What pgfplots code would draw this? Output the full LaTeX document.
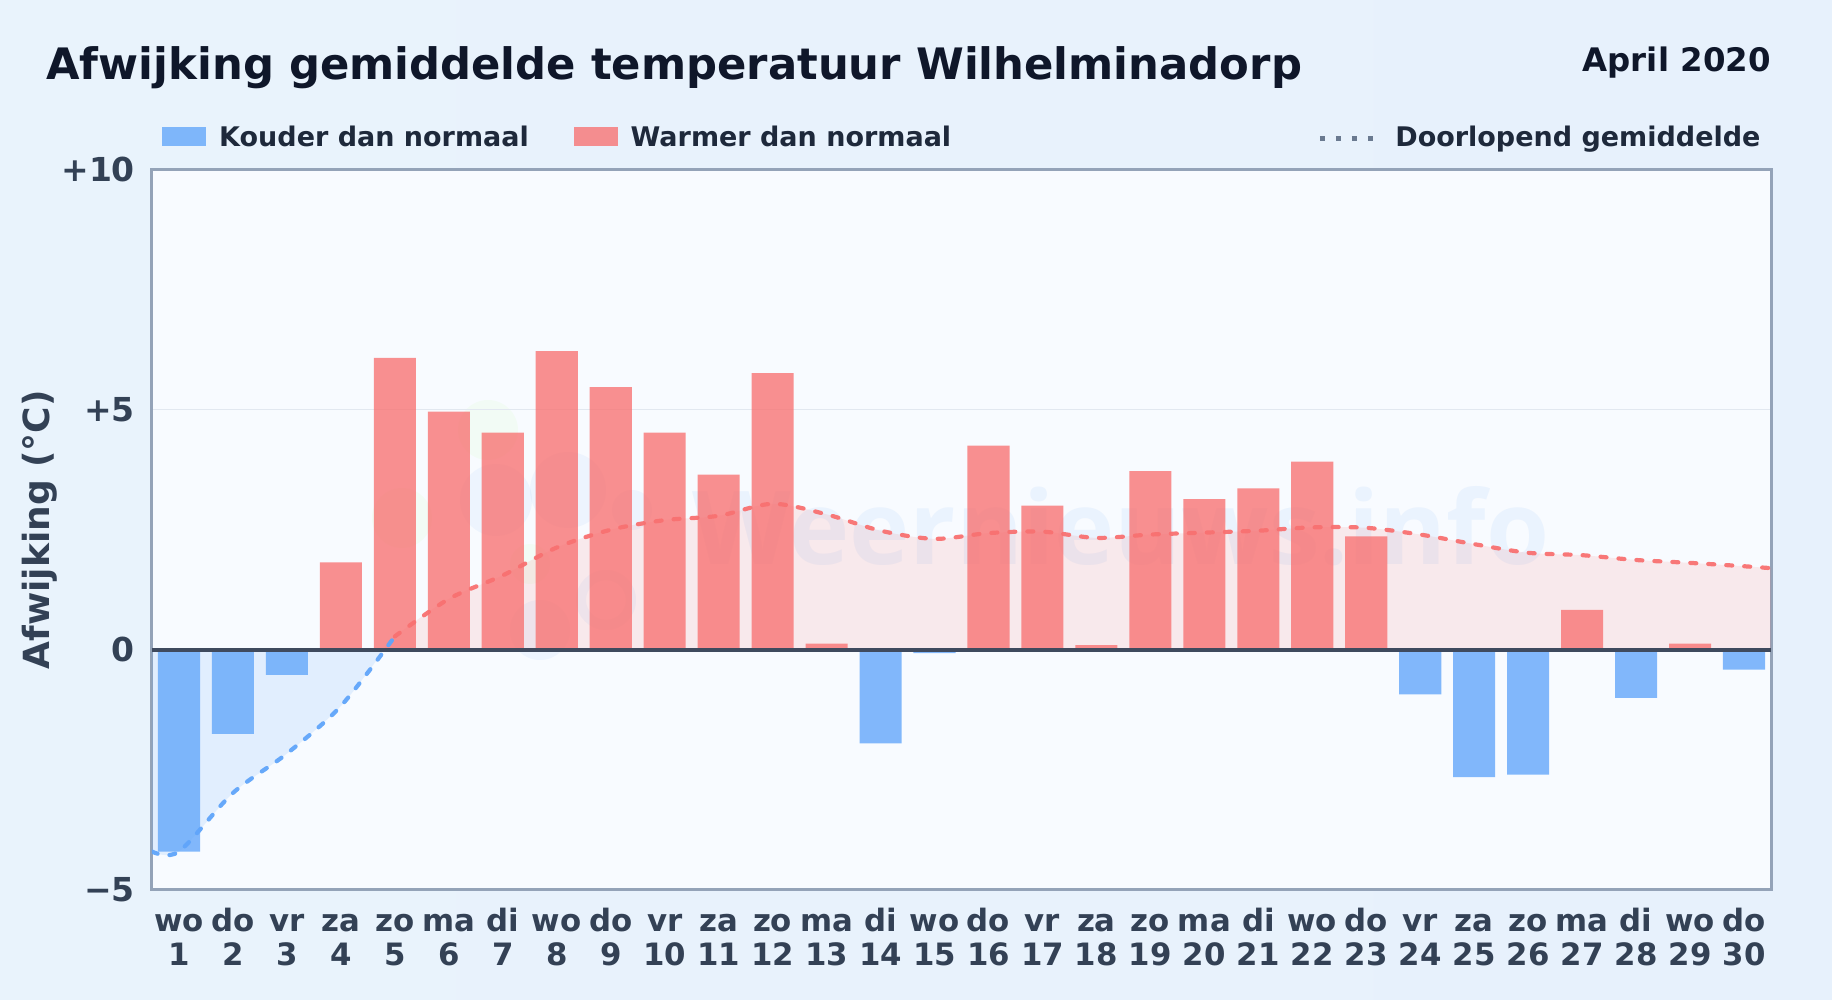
\documentclass[border=0pt]{standalone}
\usepackage{fontspec}
\setmainfont{DejaVu Sans}
\newfontfamily\wmfont{Open Sans}
\usepackage{pgfplots}
\usepackage{pgfplotstable}
\pgfplotsset{compat=1.18}

\definecolor{ink}{HTML}{0F172A}
\definecolor{legendink}{HTML}{1E293B}
\definecolor{tickink}{HTML}{334155}
\definecolor{spine}{HTML}{94A3B8}
\definecolor{gridc}{HTML}{E2E8F0}
\definecolor{cold}{HTML}{60A5FA}
\definecolor{warm}{HTML}{F87171}
\definecolor{zeroc}{HTML}{3F4A5E}
\definecolor{pageL}{HTML}{E9F3FC}
\definecolor{pageR}{HTML}{E7F1FC}
\definecolor{panel}{HTML}{F8FBFF}
\definecolor{meankey}{HTML}{64748B}

% two-line tick label with the same height on every day
\newcommand\tl[2]{\rule{0pt}{12pt}#1\\#2}

% daily deviation, split by sign
\pgfplotstableread{
x y
1 -4.20
2 -1.75
3 -0.52
14 -1.95
15 -0.07
24 -0.93
25 -2.65
26 -2.60
28 -1.00
30 -0.41
}\colddays
\pgfplotstableread{
x y
4 1.82
5 6.08
6 4.96
7 4.52
8 6.22
9 5.47
10 4.52
11 3.65
12 5.76
13 0.13
16 4.25
17 3.00
18 0.10
19 3.72
20 3.14
21 3.36
22 3.92
23 2.36
27 0.83
29 0.13
}\warmdays
% running mean
\pgfplotstableread{
x y
0.5 -4.20
1 -4.20
2 -2.98
3 -2.16
4 -1.17
5 0.28
}\meancold
\pgfplotstableread{
x y
5 0.28
6 1.06
7 1.55
8 2.13
9 2.50
10 2.70
11 2.79
12 3.04
13 2.82
14 2.48
15 2.31
16 2.43
17 2.46
18 2.33
19 2.40
20 2.44
21 2.48
22 2.55
23 2.54
24 2.40
25 2.20
26 2.02
27 1.97
28 1.87
29 1.81
30 1.74
30.5 1.70
}\meanwarm
\pgfplotstableread{
x y
0.5 -4.20
1 -4.20
2 -2.98
3 -2.16
4 -1.17
4.8 0
}\fillcold
\pgfplotstableread{
x y
4.8 0
5 0.28
6 1.06
7 1.55
8 2.13
9 2.50
10 2.70
11 2.79
12 3.04
13 2.82
14 2.48
15 2.31
16 2.43
17 2.46
18 2.33
19 2.40
20 2.44
21 2.48
22 2.55
23 2.54
24 2.40
25 2.20
26 2.02
27 1.97
28 1.87
29 1.81
30 1.74
30.5 1.70
}\fillwarm

\begin{document}
\begin{tikzpicture}
% page and panel; 1 px of the reference is 0.5 pt, origin at the lower left of the axis box
\path[use as bounding box] (-76pt,-55pt) rectangle (840pt,445pt);
\shade[left color=pageL, right color=pageR] (-76pt,-55pt) rectangle (840pt,445pt);
\fill[panel] (0,0) rectangle (809.5pt,360.25pt);

% faint logo and watermark behind the data
\begin{scope}[fill opacity=0.04]
\fill[green!55!yellow] (168pt,230pt) circle (15pt);
\fill[green!55!yellow] (125pt,186pt) circle (15pt);
\fill[green!55!yellow] (189pt,163pt) circle (10pt);
\end{scope}
\begin{scope}[fill opacity=0.07]
\fill[cold] (172pt,195pt) circle (18pt);
\fill[cold] (208pt,200pt) circle (19pt);
\fill[cold] (240pt,190pt) circle (10pt);
\fill[cold,even odd rule] (227pt,145pt) circle (15pt) circle (10pt);
\fill[cold] (194pt,130pt) circle (15pt);
\end{scope}
\node[anchor=base east,inner sep=0pt,text=cold,opacity=0.09] at (699pt,162.5pt)
  {\wmfont\bfseries\fontsize{51}{51}\selectfont Weernieuws.info};

\begin{axis}[
  at={(0,0)}, anchor=south west,
  scale only axis, width=809.5pt, height=360.25pt,
  xmin=0.5, xmax=30.5, ymin=-5, ymax=10,
  axis line style={color=spine,line width=1.5pt},
  major tick length=0pt,
  ytick={-5,0,5,10},
  yticklabels={−5,0,+5,+10},
  xtick={1,...,30},
  xticklabels={{\tl{wo}{1}},{\tl{do}{2}},{\tl{vr}{3}},{\tl{za}{4}},{\tl{zo}{5}},{\tl{ma}{6}},{\tl{di}{7}},{\tl{wo}{8}},{\tl{do}{9}},{\tl{vr}{10}},
    {\tl{za}{11}},{\tl{zo}{12}},{\tl{ma}{13}},{\tl{di}{14}},{\tl{wo}{15}},{\tl{do}{16}},{\tl{vr}{17}},{\tl{za}{18}},{\tl{zo}{19}},{\tl{ma}{20}},
    {\tl{di}{21}},{\tl{wo}{22}},{\tl{do}{23}},{\tl{vr}{24}},{\tl{za}{25}},{\tl{zo}{26}},{\tl{ma}{27}},{\tl{di}{28}},{\tl{wo}{29}},{\tl{do}{30}}},
  x tick label style={align=center,text=tickink,yshift=-5pt,
    font=\bfseries\fontsize{15.4}{17}\selectfont},
  y tick label style={text=tickink,xshift=-5pt,font=\bfseries\fontsize{16.5}{16.5}\selectfont},
  ymajorgrids,
  grid style={color=gridc,line width=0.8pt},
  ylabel={Afwijking (°C)},
  ylabel style={at={(axis description cs:-0.0695,0.5)},anchor=center,text=tickink,
    font=\bfseries\fontsize{18}{18}\selectfont},
  legend columns=3,
  legend cell align=left,
  legend style={at={(axis description cs:0,1)},anchor=south west,xshift=5pt,yshift=9.9pt,
    draw=none,fill=none,inner sep=0pt,
    font=\bfseries\fontsize{13.5}{13.5}\selectfont,text=legendink,
    nodes={inner sep=0pt},
    /tikz/column 2/.style={column sep=22.5pt},
    /tikz/column 4/.style={column sep=183pt}},
]
\addplot[fill=cold,fill opacity=0.15,draw=none,smooth,tension=0.5,forget plot] table {\fillcold} \closedcycle;
\addplot[fill=warm,fill opacity=0.13,draw=none,smooth,tension=0.5,forget plot] table {\fillwarm} \closedcycle;

\addplot[ybar,bar width=0.78,bar shift=0pt,fill=cold,fill opacity=0.78,draw=none,
  legend image code/.code={\fill[cold,fill opacity=0.78] (0pt,-4pt) rectangle (22pt,5.5pt);\path (28.4pt,0pt);}]
  table {\colddays};
\addlegendentry{Kouder dan normaal}
\addplot[ybar,bar width=0.78,bar shift=0pt,fill=warm,fill opacity=0.78,draw=none,
  legend image code/.code={\fill[warm,fill opacity=0.78] (0pt,-4pt) rectangle (22pt,5.5pt);\path (28.4pt,0pt);}]
  table {\warmdays};
\addlegendentry{Warmer dan normaal}

\addplot[color=cold,opacity=0.95,line width=2.1pt,line cap=round,smooth,tension=0.5,dash pattern=on 3pt off 6pt,forget plot] table {\meancold};
\addplot[color=warm,opacity=0.95,line width=2.1pt,line cap=round,smooth,tension=0.5,dash pattern=on 3pt off 6pt,
  legend image code/.code={
    \draw[color=meankey,line width=2.6pt,line cap=butt,dash pattern=on 2.6pt off 5.4pt] (0pt,-0.5pt) -- (26.6pt,-0.5pt);\path (36.7pt,0pt);}]
  table {\meanwarm};
\addlegendentry{Doorlopend gemiddelde}

\addplot[color=zeroc,line width=1.75pt,forget plot] coordinates {(0.5,0) (30.5,0)};
\end{axis}

\node[anchor=base west,inner sep=0pt,text=ink,font=\bfseries\fontsize{21.66}{21.66}\selectfont]
  at (-53pt,405pt) {Afwijking gemiddelde temperatuur Wilhelminadorp};
\node[anchor=base east,inner sep=0pt,text=ink,font=\bfseries\fontsize{16.2}{16.2}\selectfont]
  at (809.5pt,409pt) {April 2020};
\end{tikzpicture}
\end{document}
